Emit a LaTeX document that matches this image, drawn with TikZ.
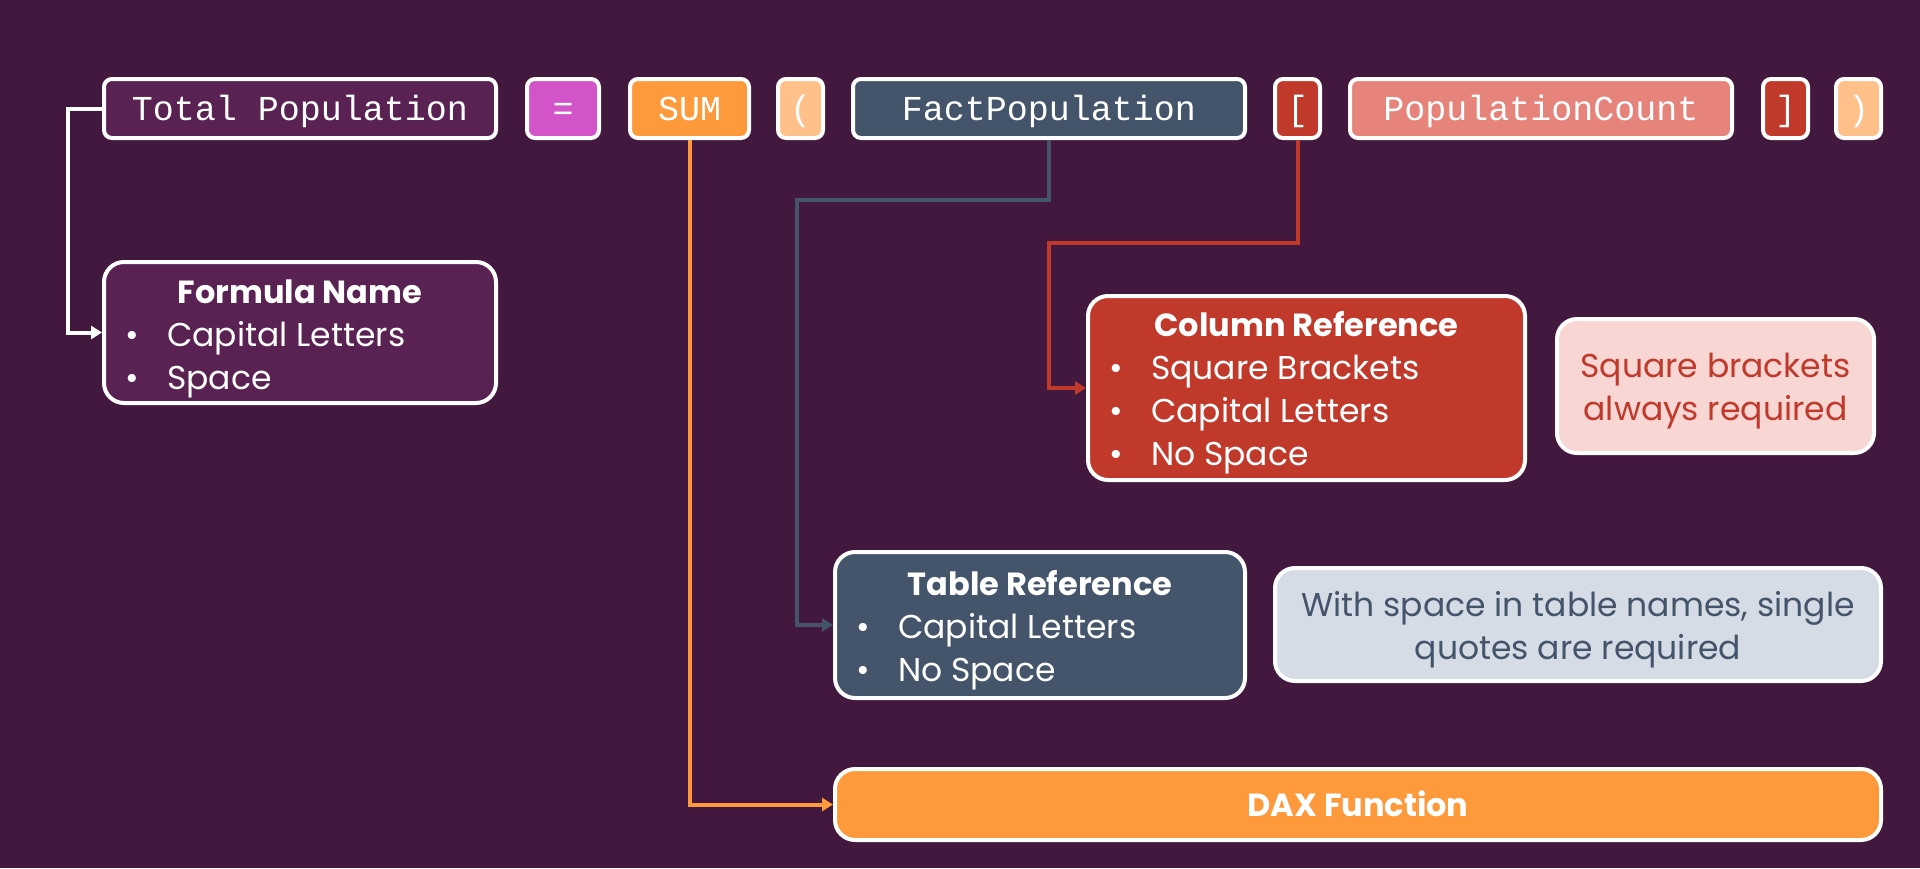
\documentclass[tikz,border=0pt]{standalone}
\usepackage{fontspec}
\setmainfont{Poppins}
\newfontfamily\codefam{Liberation Mono}
\usetikzlibrary{arrows.meta}

\definecolor{bgpurple}{HTML}{42183E}
\definecolor{namepurple}{HTML}{5A2153}
\definecolor{eqpink}{HTML}{D354C8}
\definecolor{funcorange}{HTML}{FE9A3B}
\definecolor{parenorange}{HTML}{FFC08A}
\definecolor{tableslate}{HTML}{44546A}
\definecolor{bracketred}{HTML}{C0392B}
\definecolor{colsalmon}{HTML}{E6837A}
\definecolor{notepink}{HTML}{F7D6D4}
\definecolor{notegrey}{HTML}{D6DCE5}

\tikzset{
  token/.style={draw=white, line width=4pt, rounded corners=8pt, inner sep=0pt,
    minimum height=59pt, text height=25pt, text depth=2pt, text=white,
    font=\codefam\fontsize{35}{42}\selectfont},
  card/.style={draw=white, line width=4pt, rounded corners=20pt, inner sep=0pt},
  head/.style={anchor=base, text=white, inner sep=0pt, font=\bfseries\fontsize{32}{43}\selectfont},
  item/.style={anchor=base west, text=white, inner sep=0pt, font=\fontsize{33}{43}\selectfont},
  notetext/.style={inner sep=0pt, align=center, font=\fontsize{33}{43}\selectfont},
  link/.style={line width=4pt, -{Triangle[length=11pt,width=13pt]}},
}
\newcommand{\bul}{\makebox[42pt][l]{\textbullet}}

\begin{document}
\begin{tikzpicture}[x=1pt,y=-1pt]
\fill[bgpurple] (0,0) rectangle (1920,868);

% the formula, one token per box
\node[token,fill=namepurple,minimum width=392pt] (total) at (300,108.5) {Total Population};
\node[token,fill=eqpink,minimum width=72pt] (eq) at (563,108.5) {=};
\node[token,fill=funcorange,minimum width=119pt] (sum) at (689.5,108.5) {SUM};
\node[token,fill=parenorange,minimum width=45pt] (lparen) at (800.5,108.5) {(};
\node[token,fill=tableslate,minimum width=392pt] (fact) at (1049,108.5) {FactPopulation};
\node[token,fill=bracketred,minimum width=45pt] (lbrack) at (1297.5,108.5) {[};
\node[token,fill=colsalmon,minimum width=382pt] (popcount) at (1541,108.5) {PopulationCount};
\node[token,fill=bracketred,minimum width=45pt] (rbrack) at (1785.5,108.5) {]};
\node[token,fill=parenorange,minimum width=45pt] (rparen) at (1858.5,108.5) {)};

% explanation cards
\node[card,fill=namepurple,minimum width=392pt,minimum height=141pt] (formula) at (300,332.5) {};
\node[head] (formulahead) at (300,303) {Formula Name};
\node[item] (formulaA) at (125,346) {\bul Capital Letters};
\node[item] (formulaB) at (125,389) {\bul Space};

\node[card,fill=bracketred,minimum width=437pt,minimum height=184pt] (column) at (1306.5,388) {};
\node[head] (columnhead) at (1306.5,336) {Column Reference};
\node[item] (columnA) at (1109,379) {\bul Square Brackets};
\node[item] (columnB) at (1109,422) {\bul Capital Letters};
\node[item] (columnC) at (1109,465) {\bul No Space};

\node[card,fill=notepink,minimum width=317pt,minimum height=134pt] (colnote) at (1715.5,386) {};
\node[notetext,text=bracketred] (colnotetext) at (1715.5,391) {Square brackets\\always required};

\node[card,fill=tableslate,minimum width=410pt,minimum height=146pt] (table) at (1040,625) {};
\node[head] (tablehead) at (1040,595) {Table Reference};
\node[item] (tableA) at (856,638) {\bul Capital Letters};
\node[item] (tableB) at (856,681) {\bul No Space};

\node[card,fill=notegrey,minimum width=606pt,minimum height=113pt] (tablenote) at (1578,624.5) {};
\node[notetext,text=tableslate] (tablenotetext) at (1578,629.5) {With space in table names, single\\quotes are required};

\node[card,fill=funcorange,minimum width=1046pt,minimum height=71pt] (dax) at (1358,804.5) {};
\node[head] (daxhead) at (1358,816) {DAX Function};

% connectors
\coordinate (tablebend) at (797,200);
\coordinate (columnbend) at (1049,243);
\draw[link,white] (total.west) -- ++(-34,0) |- (formula.west);
\draw[link,funcorange] (sum.south) |- (dax.west);
\draw[link,tableslate] (fact.south) |- (tablebend) |- (table.west);
\draw[link,bracketred] (lbrack.south) |- (columnbend) |- (column.west);
\end{tikzpicture}
\end{document}
